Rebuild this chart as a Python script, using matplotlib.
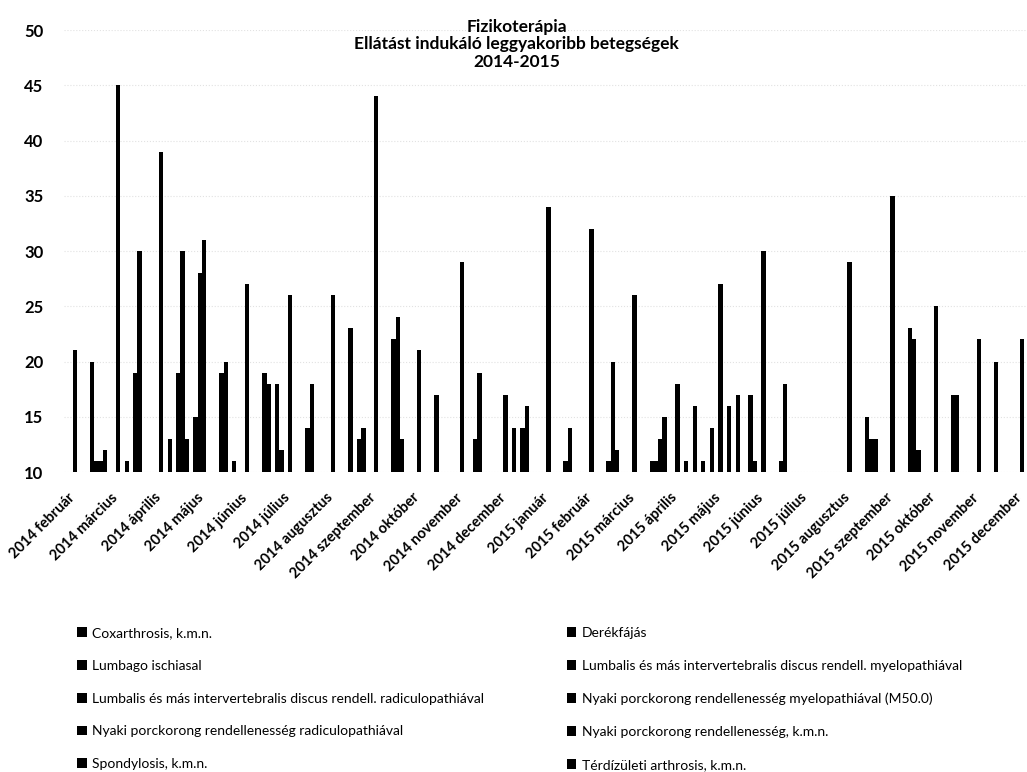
import numpy as np
import matplotlib
matplotlib.use('Agg')
import matplotlib.pyplot as plt

plt.rcParams['font.family'] = ['Lato', 'DejaVu Sans']

# hónapok
honapok = ['2014 február', '2014 március', '2014 április', '2014 május', '2014 június',
           '2014 július', '2014 augusztus', '2014 szeptember', '2014 október',
           '2014 november', '2014 december', '2015 január', '2015 február',
           '2015 március', '2015 április', '2015 május', '2015 június', '2015 július',
           '2015 augusztus', '2015 szeptember', '2015 október', '2015 november',
           '2015 december']

# betegségek (a grafikon 10-nél kezdődik, az alatti értékek nem látszanak)
coxarthrosis   = [0, 0, 0, 15, 0, 12, 0, 0, 0, 0, 0, 0, 0, 0, 0, 14, 11, 0, 0, 0, 0, 0, 0]
derekfajas     = [0, 0, 0, 28, 0, 0, 0, 0, 0, 0, 0, 0, 0, 0, 0, 0, 0, 0, 0, 0, 0, 0, 0]
lumbago        = [21, 45, 39, 31, 27, 26, 26, 44, 21, 29, 17, 34, 32, 26, 18, 27, 30, 0, 29, 35, 25, 22, 22]
lumb_myelo     = [0, 0, 0, 0, 0, 0, 0, 0, 0, 0, 0, 0, 0, 0, 0, 0, 0, 0, 0, 0, 0, 0, 0]
lumb_radiculo  = [0, 11, 13, 0, 0, 0, 0, 0, 0, 0, 14, 0, 0, 0, 11, 16, 0, 0, 0, 0, 0, 0, 0]
nyaki_myelo    = [0, 0, 0, 0, 0, 0, 0, 0, 0, 13, 0, 0, 0, 0, 0, 0, 0, 0, 0, 0, 0, 0, 0]
nyaki_radiculo = [20, 19, 19, 19, 19, 14, 23, 22, 17, 19, 14, 11, 11, 11, 16, 17, 11, 0, 15, 23, 17, 20, 0]
nyaki_kmn      = [11, 30, 30, 20, 18, 18, 0, 24, 0, 0, 16, 14, 20, 11, 0, 0, 18, 0, 13, 22, 17, 0, 0]
spondylosis    = [11, 0, 13, 0, 0, 0, 13, 13, 0, 0, 0, 0, 12, 13, 11, 0, 0, 0, 13, 12, 0, 0, 0]
terd_arthrosis = [12, 0, 0, 11, 18, 0, 14, 0, 0, 0, 0, 0, 0, 15, 0, 17, 0, 0, 0, 0, 0, 0, 0]

nevek = ['Coxarthrosis, k.m.n.', 'Derékfájás', 'Lumbago ischiasal',
         'Lumbalis és más intervertebralis discus rendell. myelopathiával',
         'Lumbalis és más intervertebralis discus rendell. radiculopathiával',
         'Nyaki porckorong rendellenesség myelopathiával (M50.0)',
         'Nyaki porckorong rendellenesség radiculopathiával',
         'Nyaki porckorong rendellenesség, k.m.n.',
         'Spondylosis, k.m.n.', 'Térdízületi arthrosis, k.m.n.']
sorok = [coxarthrosis, derekfajas, lumbago, lumb_myelo, lumb_radiculo,
         nyaki_myelo, nyaki_radiculo, nyaki_kmn, spondylosis, terd_arthrosis]

fig = plt.figure(figsize=(10.27, 7.72), dpi=100)
ax = fig.add_axes([0.0626, 0.3886, 0.9637, 0.5725])

x = np.arange(len(honapok))
w = 0.1
oszlopok = []
for k, adat in enumerate(sorok):
    b = ax.bar(x + (k - 4.5) * w, adat, width=w, color='black', linewidth=0)
    oszlopok.append(b)

ax.set_ylim(10, 50)
ax.set_xlim(-0.5, 22.5)
ax.set_yticks(range(10, 51, 5))
ax.set_xticks(x - 0.3)
ax.set_xticklabels(honapok, rotation=45, ha='right', va='center', rotation_mode='anchor',
                   fontsize=10.5, fontweight='bold')
for t in ax.get_yticklabels():
    t.set_fontsize(12)
    t.set_fontweight('bold')
ax.tick_params(length=0)
ax.tick_params(axis='y', pad=15)
ax.tick_params(axis='x', pad=17)
for s in ax.spines.values():
    s.set_visible(False)
ax.yaxis.grid(True, color='#e2e2e2', linestyle=':', linewidth=0.8)
ax.set_axisbelow(True)

fig.text(0.503, 0.976, 'Fizikoterápia\nEllátást indukáló leggyakoribb betegségek\n2014-2015',
         ha='center', va='top', fontsize=12.5, fontweight='bold', linespacing=1.12)

bal = [0, 2, 4, 6, 8]
jobb = [1, 3, 5, 7, 9]
for idx, xpos in ((bal, 0.068), (jobb, 0.545)):
    fig.legend([oszlopok[i] for i in idx], [nevek[i] for i in idx],
               loc='upper left', bbox_to_anchor=(xpos, 0.197), frameon=False,
               fontsize=10, handlelength=0.7, handleheight=0.7,
               handletextpad=0.4, labelspacing=1.5, borderpad=0)

fig.savefig('out.png', dpi=100)
